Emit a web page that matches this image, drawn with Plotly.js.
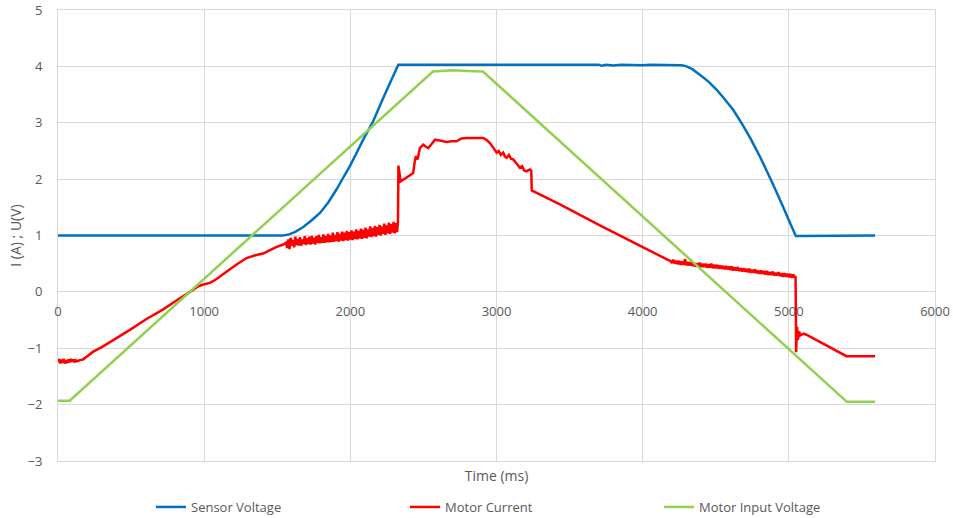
<!DOCTYPE html>
<html>
<head>
<meta charset="utf-8">
<script src="https://cdn.plot.ly/plotly-3.0.1.min.js"></script>
<style>html,body{margin:0;padding:0;background:#fff;}#chart{width:953px;height:518px;}</style>
</head>
<body>
<div id="chart"></div>
<script>
// ---- Data ----
const seriesNames = ["Sensor Voltage", "Motor Current", "Motor Input Voltage"];

const sensorT = [0, 1540, 1580, 1620, 1678, 1740, 1792, 1850, 1906, 1950, 1997, 2040, 2088, 2157, 2225, 2328, 3000, 3700, 3720, 3750, 3800, 3850, 4000, 4050, 4268, 4300, 4340, 4391, 4450, 4505, 4560, 4619, 4680, 4740, 4800, 4850, 4900, 4959, 5000, 5048, 5590];
const sensorV = [1.0, 1.0, 1.02, 1.06, 1.15, 1.28, 1.40, 1.59, 1.82, 2.02, 2.23, 2.45, 2.70, 3.03, 3.44, 4.03, 4.03, 4.03, 4.01, 4.03, 4.015, 4.03, 4.02, 4.03, 4.02, 4.0, 3.95, 3.85, 3.73, 3.59, 3.42, 3.23, 2.98, 2.71, 2.41, 2.14, 1.86, 1.52, 1.27, 0.99, 1.0];

// Motor current as [time ms, current A] pairs
const motorCurrent = [
  [0,-1.25],[8,-1.19],[16,-1.27],[24,-1.20],[32,-1.26],[40,-1.19],[48,-1.27],[56,-1.21],[64,-1.26],[72,-1.20],[80,-1.25],[88,-1.19],[96,-1.24],[104,-1.20],[112,-1.25],[120,-1.21],[130,-1.23],[150,-1.21],[170,-1.20],[200,-1.14],[241,-1.06],[300,-0.98],[400,-0.82],[500,-0.66],[600,-0.49],[720,-0.31],[813,-0.15],[903,0.0],[960,0.10],[994,0.13],[1040,0.16],[1080,0.22],[1176,0.40],[1230,0.50],[1290,0.60],[1350,0.65],[1404,0.68],[1450,0.74],[1496,0.80],[1541,0.84],[1560,0.87],
  [1568,0.78],[1576,0.93],[1584,0.76],[1592,0.96],[1600,0.82],[1608,0.92],[1616,0.79],[1624,0.98],[1632,0.83],[1640,0.94],[1648,0.82],[1656,0.97],[1664,0.82],[1672,0.93],[1680,0.85],[1688,0.99],[1696,0.83],[1704,0.95],[1712,0.85],[1720,0.98],[1728,0.84],[1736,0.99],[1744,0.86],[1752,0.96],[1760,0.84],[1768,0.99],[1776,0.87],[1784,1.01],[1792,0.86],[1800,0.97],
  [1808,0.87],[1816,1.02],[1824,0.87],[1832,0.99],[1840,0.88],[1848,1.03],[1856,0.88],[1864,1.00],[1872,0.89],[1880,1.05],[1888,0.89],[1896,1.01],[1904,0.90],[1912,1.06],[1920,0.89],[1928,1.03],[1936,0.91],[1944,1.07],[1952,0.90],[1960,1.05],[1968,0.92],[1976,1.08],[1984,0.91],[1992,1.06],[2000,0.93],[2008,1.09],[2016,0.92],[2024,1.07],[2032,0.94],[2040,1.11],
  [2048,0.93],[2056,1.08],[2064,0.95],[2072,1.12],[2080,0.94],[2088,1.10],[2096,0.96],[2104,1.14],[2112,0.95],[2120,1.11],[2128,0.98],[2136,1.16],[2144,0.97],[2152,1.13],[2160,0.99],[2168,1.17],[2176,0.98],[2184,1.15],[2192,1.01],[2200,1.19],[2208,1.00],[2216,1.16],[2224,1.03],[2232,1.21],[2240,1.01],[2248,1.18],[2256,1.04],[2264,1.23],[2272,1.03],[2280,1.20],
  [2288,1.05],[2296,1.24],[2304,1.04],[2312,1.22],[2320,1.06],[2326,1.26],
  [2329,2.24],[2344,1.96],[2380,2.02],[2430,2.11],[2440,2.30],[2449,2.41],[2460,2.35],[2476,2.55],[2499,2.61],[2515,2.58],[2533,2.55],[2555,2.62],[2579,2.70],[2620,2.68],[2659,2.66],[2690,2.67],[2727,2.67],[2760,2.72],[2795,2.73],[2850,2.73],[2909,2.73],[2935,2.69],[2955,2.64],[2980,2.55],[3001,2.47],[3015,2.50],[3030,2.43],[3046,2.47],[3058,2.40],[3069,2.38],[3085,2.43],[3100,2.36],[3114,2.35],[3130,2.30],[3145,2.25],[3160,2.20],[3175,2.23],[3190,2.15],[3206,2.14],[3228,2.17],[3238,2.15],[3241,1.80],[3434,1.55],[3707,1.18],[3950,0.86],[4163,0.58],[4186,0.55],
  [4190,0.55],[4200,0.51],[4210,0.57],[4220,0.50],[4230,0.55],[4240,0.49],[4250,0.55],[4260,0.48],[4270,0.54],[4280,0.48],[4290,0.58],[4300,0.47],[4310,0.53],[4320,0.47],[4330,0.53],[4340,0.46],[4350,0.52],[4360,0.45],[4370,0.51],[4380,0.45],[4390,0.52],[4400,0.44],[4410,0.50],[4420,0.44],[4430,0.50],[4440,0.43],[4450,0.49],[4460,0.43],[4470,0.50],[4480,0.42],
  [4490,0.48],[4500,0.42],[4510,0.48],[4520,0.41],[4530,0.47],[4540,0.41],[4550,0.46],[4560,0.40],[4570,0.46],[4580,0.40],[4590,0.45],[4600,0.39],[4610,0.45],[4620,0.38],[4630,0.43],[4640,0.38],[4650,0.44],[4660,0.37],[4670,0.42],[4680,0.36],[4690,0.42],[4700,0.36],[4710,0.41],[4720,0.35],[4730,0.41],[4740,0.34],[4750,0.39],[4760,0.34],[4770,0.40],[4780,0.33],
  [4790,0.38],[4800,0.32],[4810,0.38],[4820,0.32],[4830,0.37],[4840,0.31],[4850,0.37],[4860,0.30],[4870,0.35],[4880,0.30],[4890,0.36],[4900,0.29],[4910,0.34],[4920,0.29],[4930,0.35],[4940,0.28],[4950,0.33],[4960,0.27],[4970,0.33],[4980,0.27],[4990,0.32],[5000,0.26],[5010,0.32],[5020,0.25],[5030,0.31],[5040,0.25],[5046,0.28],
  [5050,-1.07],[5056,-0.62],[5062,-0.85],[5070,-0.70],[5080,-0.77],[5100,-0.74],[5120,-0.76],[5394,-1.14],[5590,-1.14]
];
const currentT = motorCurrent.map(p => p[0]);
const currentA = motorCurrent.map(p => p[1]);

const inputT = [0, 80, 2565, 2700, 2800, 2907, 5397, 5590];
const inputV = [-1.93, -1.93, 3.91, 3.93, 3.92, 3.91, -1.95, -1.95];

const xTickVals = [0, 1000, 2000, 3000, 4000, 5000, 6000];
const yTickVals = [-3, -2, -1, 0, 1, 2, 3, 4, 5];

// ---- Styling ----
const FONT = "'Open Sans', sans-serif";
const TXT = "#595959";
const GRID = "#d9d9d9";
const colors = ["#0070C0", "#FF0000", "#92D050"];

const traces = [
  {x: sensorT, y: sensorV, name: seriesNames[0], type: "scatter", mode: "lines", line: {color: colors[0], width: 2.5, simplify: false}},
  {x: currentT, y: currentA, name: seriesNames[1], type: "scatter", mode: "lines", line: {color: colors[1], width: 2.5, simplify: false}},
  {x: inputT, y: inputV, name: seriesNames[2], type: "scatter", mode: "lines", line: {color: colors[2], width: 2.5, simplify: false}},
  {x: [], y: [], xaxis: "x2", yaxis: "y", showlegend: false, hoverinfo: "skip", type: "scatter", mode: "lines"}
];

const layout = {
  width: 953, height: 518,
  margin: {l: 58, r: 18, t: 10, b: 56.5, pad: 0, autoexpand: false},
  paper_bgcolor: "#fff", plot_bgcolor: "#fff",
  font: {family: FONT, color: TXT, size: 13},
  showlegend: true,
  xaxis: {
    range: [0, 6000], tickvals: xTickVals, showticklabels: false,
    showgrid: true, gridcolor: GRID, gridwidth: 1,
    showline: true, linecolor: GRID, linewidth: 1, mirror: true,
    zeroline: false, ticks: "",
    title: {text: "Time (ms)", font: {family: FONT, size: 14, color: TXT}, standoff: 10}
  },
  xaxis2: {
    overlaying: "x", anchor: "free", position: 0.375, side: "bottom",
    range: [0, 6000], tickvals: xTickVals, ticktext: xTickVals.map(String),
    showgrid: false, showline: false, zeroline: false, ticks: "",
    ticklabelstandoff: 10,
    tickfont: {family: FONT, size: 13, color: TXT}
  },
  yaxis: {
    range: [-3, 5], tickvals: yTickVals,
    showgrid: true, gridcolor: GRID, gridwidth: 1,
    showline: true, linecolor: GRID, linewidth: 1, mirror: true,
    zeroline: true, zerolinecolor: GRID, zerolinewidth: 1,
    ticks: "", ticklabelstandoff: 12,
    tickfont: {family: FONT, size: 13, color: TXT},
    title: {text: "I (A) ; U(V)", font: {family: FONT, size: 14, color: TXT}, standoff: 2}
  },
  legend: {
    orientation: "h", xref: "container", yref: "container",
    x: 151 / 953, xanchor: "left", y: 1 - 507 / 518, yanchor: "middle",
    font: {family: FONT, size: 13, color: TXT},
    itemwidth: 30, entrywidth: 209, entrywidthmode: "pixels",
    bgcolor: "rgba(0,0,0,0)", borderwidth: 0, tracegroupgap: 0
  },
  hovermode: false
};

Plotly.newPlot("chart", traces, layout, {staticPlot: true, displayModeBar: false});
</script>
</body>
</html>
